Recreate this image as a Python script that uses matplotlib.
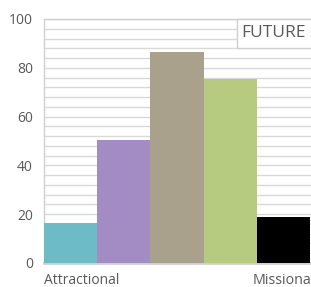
import matplotlib
matplotlib.use("Agg")
import matplotlib.pyplot as plt
from matplotlib.patches import Rectangle
import numpy as np

# values
values = [16.5, 50.5, 86.5, 75.5, 19]
colors = ["#6cbbc7", "#a38bc3", "#a9a18b", "#b6cb80", "#000000"]
end_labels = ["Attractional", "Missional"]
legend_label = "FUTURE"
yticks = [0, 20, 40, 60, 80, 100]

plt.rcParams['font.family'] = ['Open Sans', 'DejaVu Sans']

W, H = 311, 287
fig = plt.figure(figsize=(W / 100, H / 100), dpi=100)
bar_px = 53.2
n_show = 5.5
ax = fig.add_axes([44 / W, (H - 263) / H, n_show * bar_px / W, 244 / H])

x = np.arange(len(values))
ax.bar(x, values, width=1.0, align='edge', color=colors, zorder=3)

ax.set_xlim(0, n_show)
ax.set_ylim(0, 100)
ax.set_yticks(yticks)
ax.set_yticks(np.arange(0, 101, 4), minor=True)
ax.tick_params(axis='y', which='both', length=0, labelsize=10, colors='#595959', pad=8)
ax.grid(axis='y', which='both', color='#d9d9d9', linewidth=1, zorder=0)
ax.set_xticks([])
for s in ['left', 'top']:
    ax.spines[s].set_color('#cfcfcf')
    ax.spines[s].set_linewidth(1)
ax.spines['bottom'].set_color('#cfcfcf')
ax.spines['bottom'].set_linewidth(2)
ax.spines['right'].set_visible(False)

fig.text(44 / W, (H - 280) / H, end_labels[0], ha='left', va='center',
         fontsize=10, color='#595959')
# the reference crops this label at the right edge
fig.text(253 / W, (H - 280) / H, end_labels[1], ha='left', va='center',
         fontsize=10.3, color='#595959')

# legend box running off the right edge
fig.patches.append(Rectangle((237 / W, (H - 48) / H), 100 / W, 29 / H,
                             transform=fig.transFigure, facecolor='white',
                             edgecolor='#d0d0d0', linewidth=1, zorder=4))
fig.text(241 / W, (H - 33) / H, legend_label, ha='left', va='center',
         fontsize=12.5, color='#595959', zorder=5)

fig.savefig("out.png", dpi=100)
